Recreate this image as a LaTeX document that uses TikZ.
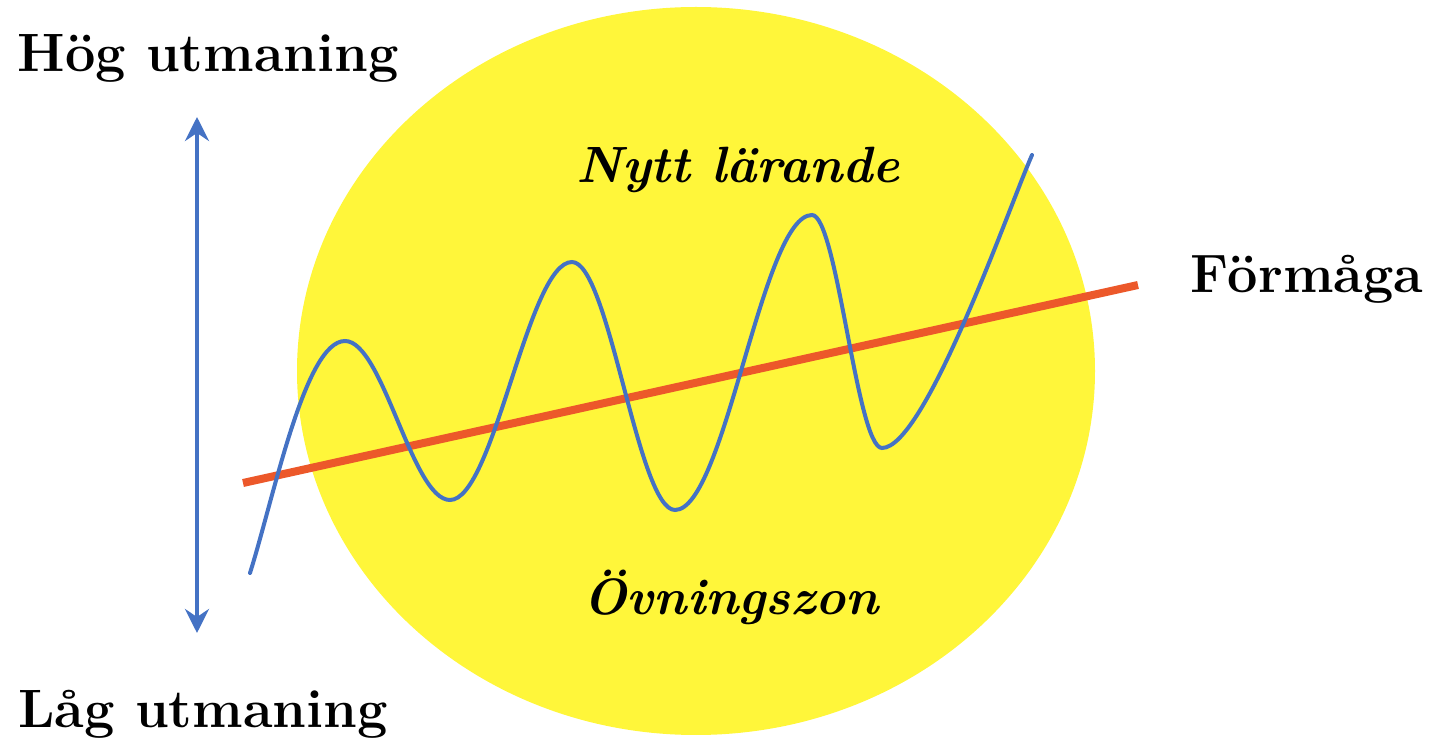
\documentclass[tikz,border=0pt]{standalone}
\usepackage{fontspec}
\usepackage{tikz}
\usetikzlibrary{arrows.meta, positioning}

\definecolor{zoneyellow}{RGB}{255,246,58}
\definecolor{waveblue}{RGB}{68,114,196}
\definecolor{lineorange}{RGB}{236,88,42}

\begin{document}
\begin{tikzpicture}[
    x=0.5pt, y=0.5pt,
    label/.style={anchor=base, inner sep=0pt, font=\fontsize{27}{30}\selectfont\bfseries},
    zonelabel/.style={label, font=\fontsize{25.5}{30}\selectfont\bfseries\itshape},
    arrow/.style={{Stealth[length=12pt, width=12pt, inset=4pt]}-{Stealth[length=12pt, width=12pt, inset=4pt]}, line width=2pt, waveblue},
]
\useasboundingbox (0,0) rectangle (1431,745);
\fill[zoneyellow] (696,374) ellipse [x radius=199.5pt, y radius=182pt];

\node[label] (high) at (208,673) {Hög utmaning};
\node[label] (low) at (203,18) {Låg utmaning};
\node[label] (ability) at (1307,452) {Förmåga};
\node[zonelabel] (newlearn) at (738,562) {Nytt lärande};
\node[zonelabel] (practice) at (731,130) {Övningszon};

\coordinate (top) at (197,628);
\coordinate (bottom) at (197,112);
\draw[arrow] (bottom) -- (top);

% ability line
\coordinate (lstart) at (243,262);
\coordinate (lend) at (1138,460);
\draw[lineorange, line width=4pt] (lstart) -- (lend);

% challenge wave
\draw[waveblue, line width=2pt, line cap=round]
    (250,172) .. controls (274,248) and (305,404) .. (345,404)
    .. controls (383,404) and (412,245) .. (450,245)
    .. controls (494,245) and (528,483) .. (572,483)
    .. controls (609,483) and (638,235) .. (675,235)
    .. controls (725,235) and (762,530) .. (812,530)
    .. controls (837,530) and (857,297) .. (882,297)
    .. controls (925,297) and (1008,535) .. (1032,590);
\end{tikzpicture}
\end{document}
